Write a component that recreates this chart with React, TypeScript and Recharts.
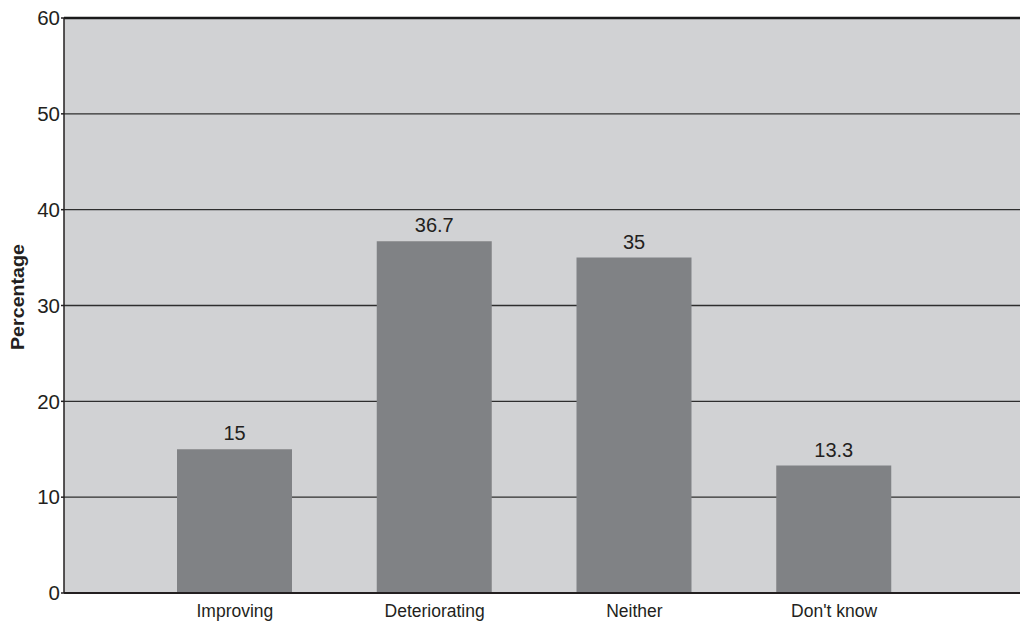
import React from 'react';
import { BarChart, Bar, XAxis, YAxis, CartesianGrid, LabelList, Label, ReferenceLine } from 'recharts';

const categories = ['Improving', 'Deteriorating', 'Neither', "Don't know"];
const percentages = [15, 36.7, 35, 13.3];
const yTicks = [0, 10, 20, 30, 40, 50, 60];

const data = categories.map((c, i) => ({ name: c, value: percentages[i] }));

const FONT = '"Liberation Sans", Arial, Helvetica, sans-serif';

export default function App() {
  return (
    <div style={{ position: 'absolute', left: 0, top: 0, width: 1020, height: 623, background: '#fff' }}>
      <BarChart
        width={1020}
        height={623}
        data={data}
        margin={{ top: 18, right: 0, bottom: 0, left: 0 }}
        barSize={115}
      >
        <CartesianGrid vertical={false} stroke="#2e2e2e" strokeWidth={1.3} fill="#d1d2d4" />
        <ReferenceLine y={60} stroke="#1a1a1a" strokeWidth={2.5} />
        <XAxis
          dataKey="name"
          height={30}
          tickLine={false}
          tickSize={0}
          tickMargin={12}
          axisLine={{ stroke: '#231f20', strokeWidth: 2 }}
          padding={{ left: 71, right: 86 }}
          tick={{ fill: '#231f20', fontSize: 17.5, fontFamily: FONT }}
          interval={0}
        />
        <YAxis
          width={64}
          domain={[0, 60]}
          ticks={yTicks}
          interval={0}
          tickSize={3}
          tickMargin={1}
          tickLine={{ stroke: '#231f20', strokeWidth: 1.5 }}
          axisLine={{ stroke: '#231f20', strokeWidth: 1.5 }}
          tick={{ fill: '#231f20', fontSize: 20.5, fontFamily: FONT }}
        >
          <Label
            content={() => (
              <text
                x={24}
                y={297}
                transform="rotate(-90 24 297)"
                textAnchor="middle"
                fontFamily={FONT}
                fontWeight="bold"
                fontSize={18}
                textLength={106}
                lengthAdjust="spacingAndGlyphs"
                fill="#231f20"
              >
                Percentage
              </text>
            )}
          />
        </YAxis>
        <Bar dataKey="value" fill="#808285" isAnimationActive={false}>
          <LabelList
            dataKey="value"
            position="top"
            offset={9}
            fill="#231f20"
            fontSize={20}
            fontFamily={FONT}
          />
        </Bar>
      </BarChart>
    </div>
  );
}
